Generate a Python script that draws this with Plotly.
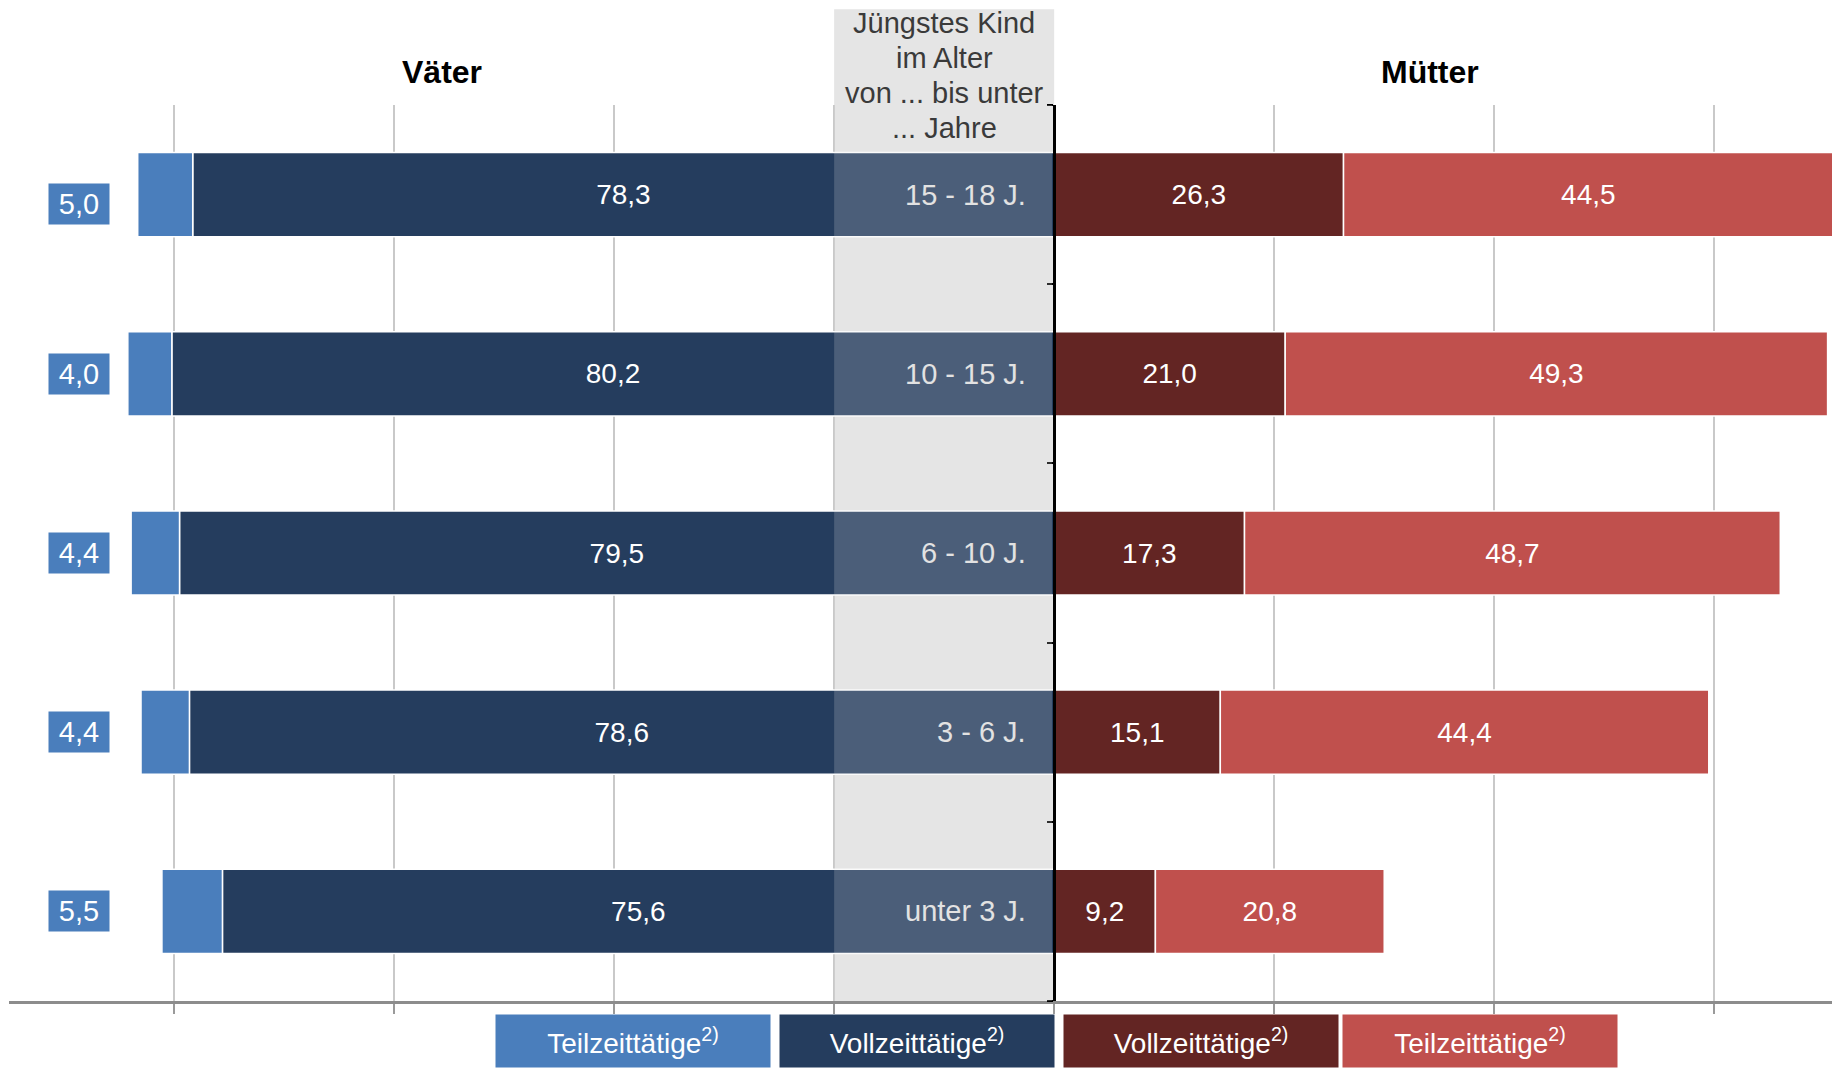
import plotly.graph_objects as go

# Jüngstes Kind im Alter (von unten nach oben)
alter = ["unter 3 J.", "3 - 6 J.", "6 - 10 J.", "10 - 15 J.", "15 - 18 J."]

vaeter_vollzeit = [75.6, 78.6, 79.5, 80.2, 78.3]
vaeter_teilzeit = [5.5, 4.4, 4.4, 4.0, 5.0]
muetter_vollzeit = [9.2, 15.1, 17.3, 21.0, 26.3]
muetter_teilzeit = [20.8, 44.4, 48.7, 49.3, 44.5]

header_lines = ["Jüngstes Kind", "im Alter", "von ... bis unter", "... Jahre"]
legend_labels = ["Teilzeittätige<sup>2)</sup>", "Vollzeittätige<sup>2)</sup>",
                 "Vollzeittätige<sup>2)</sup>", "Teilzeittätige<sup>2)</sup>"]

HELLBLAU = "#4a7ebc"
DUNKELBLAU = "#253d5e"
DUNKELROT = "#632523"
ROT = "#c0504d"
FONT = "Liberation Sans, Arial, sans-serif"

X_MIN, X_MAX = -95.0, 70.7


def de(v):
    return f"{v:.1f}".replace(".", ",")


fig = go.Figure()

fig.add_trace(go.Bar(
    y=alter, x=[-v for v in vaeter_vollzeit], orientation="h",
    marker=dict(color=DUNKELBLAU, line=dict(color="white", width=1.5)),
    text=[de(v) for v in vaeter_vollzeit], textposition="inside",
    insidetextanchor="middle", textfont=dict(color="white", size=28),
    showlegend=False,
))
fig.add_trace(go.Bar(
    y=alter, x=[-v for v in vaeter_teilzeit], orientation="h",
    marker=dict(color=HELLBLAU, line=dict(color="white", width=1.5)),
    showlegend=False,
))
fig.add_trace(go.Bar(
    y=alter, x=muetter_vollzeit, orientation="h",
    marker=dict(color=DUNKELROT, line=dict(color="white", width=1.5)),
    text=[de(v) for v in muetter_vollzeit], textposition="inside",
    insidetextanchor="middle", textfont=dict(color="white", size=28),
    showlegend=False,
))
fig.add_trace(go.Bar(
    y=alter, x=muetter_teilzeit, orientation="h",
    marker=dict(color=ROT, line=dict(color="white", width=1.5)),
    text=[de(v) for v in muetter_teilzeit], textposition="inside",
    insidetextanchor="middle", textfont=dict(color="white", size=28),
    showlegend=False,
))

# grey centre column (behind) and its tint over the bars
fig.add_shape(type="rect", xref="x", yref="paper", x0=-20, x1=0, y0=0, y1=1.107,
              fillcolor="#e5e5e5", line=dict(width=0), layer="below")
fig.add_shape(type="rect", xref="x", yref="paper", x0=-20, x1=-0.2, y0=0, y1=1,
              fillcolor="rgba(229,229,229,0.2)", line=dict(width=0), layer="above")

annotations = []

# age labels inside the grey column
for a in alter:
    annotations.append(dict(x=-2.4, y=a, xref="x", yref="y", text=a, showarrow=False,
                            xanchor="right", font=dict(size=29, color="#e2e2e2")))

# part-time values for fathers in small blue boxes
for i, (a, v) in enumerate(zip(alter, vaeter_teilzeit)):
    annotations.append(dict(x=-88.6, y=a, xref="x", yref="y", text=de(v), showarrow=False,
                            yshift=-9 if i == len(alter) - 1 else 0,
                            bgcolor=HELLBLAU, width=60, height=40, borderpad=0,
                            font=dict(size=29, color="white")))

# header of the centre column, one line each
for line, yy in zip(header_lines, [1.0915, 1.0525, 1.0134, 0.9743]):
    annotations.append(dict(x=-10, y=yy, xref="x", yref="paper", text=line,
                            showarrow=False, yanchor="middle",
                            font=dict(size=29, color="#3a3a3a")))

# group titles
annotations.append(dict(x=-55.6, y=1.037, xref="x", yref="paper", text="<b>Väter</b>",
                        showarrow=False, yanchor="middle",
                        font=dict(size=32, color="black")))
annotations.append(dict(x=34.2, y=1.037, xref="x", yref="paper", text="<b>Mütter</b>",
                        showarrow=False, yanchor="middle",
                        font=dict(size=32, color="black")))

# legend boxes below the axis
for xc, lab, col in zip([-38.3, -12.5, 13.3, 38.7], legend_labels,
                        [HELLBLAU, DUNKELBLAU, DUNKELROT, ROT]):
    annotations.append(dict(x=xc, y=0, xref="x", yref="paper", text=lab, showarrow=False,
                            yanchor="top", yshift=-13, bgcolor=col, width=274, height=52,
                            borderpad=0, font=dict(size=28, color="white")))

fig.update_layout(
    width=1832, height=1068,
    margin=dict(l=9, r=0, t=105, b=67),
    barmode="relative", bargap=0.53,
    plot_bgcolor="white", paper_bgcolor="white",
    font=dict(family=FONT, color="black"),
    annotations=annotations,
    xaxis=dict(range=[X_MIN, X_MAX], tickvals=[-80, -60, -40, -20, 0, 20, 40, 60],
               showticklabels=False, showgrid=True, gridcolor="#c9c9c9", gridwidth=1.5,
               zeroline=False, showline=True, linecolor="#8c8c8c", linewidth=3,
               ticks="outside", ticklen=10, tickcolor="#9a9a9a", tickwidth=1.5,
               fixedrange=True),
    yaxis=dict(type="category", categoryorder="array", categoryarray=alter,
               range=[-0.5, 4.5], anchor="free", position=(0 - X_MIN) / (X_MAX - X_MIN),
               showline=True, linecolor="black", linewidth=2.5,
               ticks="outside", tickson="boundaries", ticklen=6, tickcolor="black",
               tickwidth=2, showticklabels=False, showgrid=False, zeroline=False,
               fixedrange=True),
)

# full-bleed page: no default body margin, no scrollbars, no modebar
fig.write_html("out.html", config={"displayModeBar": False},
               post_script="document.body.style.margin='0';document.body.style.overflow='hidden';")
